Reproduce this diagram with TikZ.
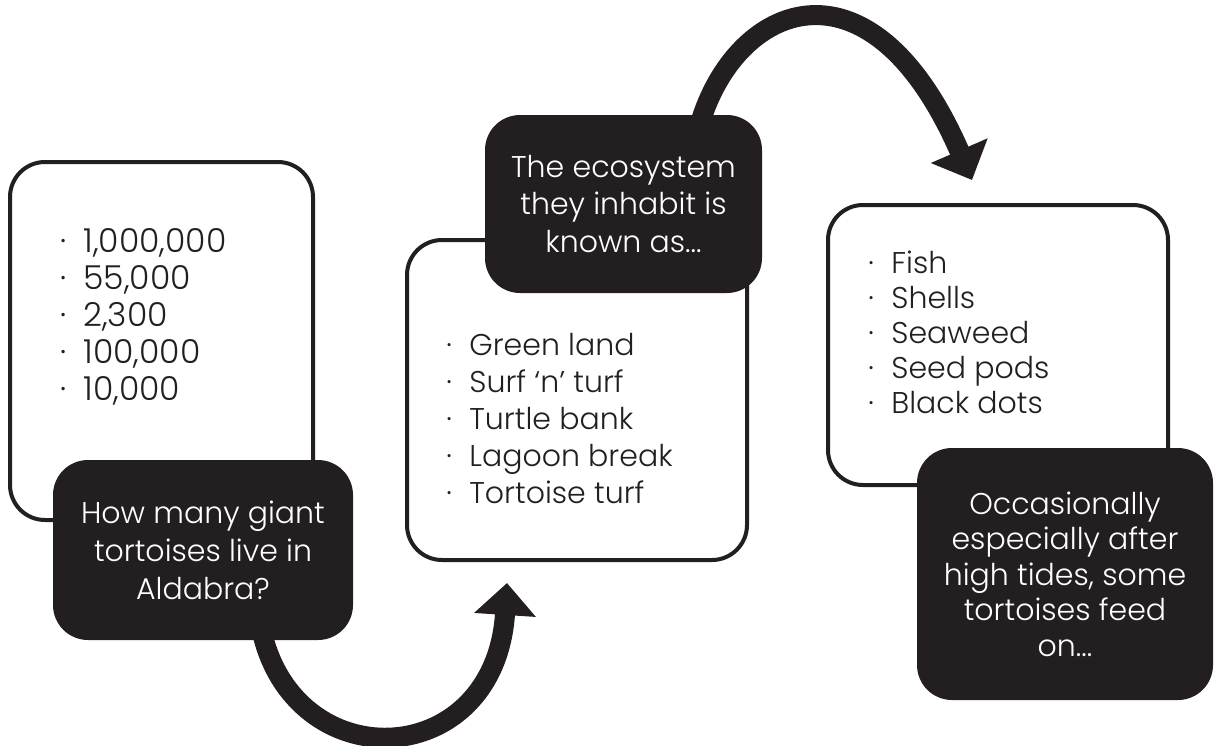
\documentclass[tikz,border=0pt]{standalone}
\usepackage{fontspec}
\setmainfont{Poppins}[UprightFont=* Light]
\usetikzlibrary{arrows.meta,calc}
\definecolor{ink}{RGB}{35,31,32}
\newcommand\bulletmark{\makebox[11.5pt][l]{·}}
\begin{document}
\begin{tikzpicture}[x=0.5pt,y=-0.5pt,
  wbox/.style={draw=ink, line width=2pt, rounded corners=17.5pt, fill=white, inner sep=0pt},
  bbox/.style={fill=ink, rounded corners=17.5pt, text=white, align=center, inner sep=0pt},
  itemlist/.style={anchor=base west, align=left, inner sep=0pt, text=ink},
  flow/.style={draw=ink, line width=10pt, -{Triangle[length=16pt,width=30pt]}}]
\useasboundingbox (0,0) rectangle (1216,745);

% first pair
\node[wbox, minimum width=151.5pt, minimum height=179pt] (a1) at (161.5,341) {};
\node[itemlist, font=\fontsize{16.5}{18.5}\selectfont] (l1) at (60,400)
  {\bulletmark 1,000,000\\ \bulletmark 55,000\\ \bulletmark 2,300\\ \bulletmark 100,000\\ \bulletmark 10,000};
\node[bbox, minimum width=150pt, minimum height=90pt, font=\fontsize{15}{19}\selectfont] (q1) at (203,550)
  {How many giant\\ tortoises live in\\ Aldabra?};

% second pair
\node[wbox, minimum width=170pt, minimum height=160pt] (a2) at (577,400) {};
\node[itemlist, font=\fontsize{15}{18.5}\selectfont] (l2) at (446,503)
  {\bulletmark Green land\\ \bulletmark Surf ‘n’ turf\\ \bulletmark Turtle bank\\ \bulletmark Lagoon break\\ \bulletmark Tortoise turf};
\node[bbox, minimum width=138.5pt, minimum height=89pt, font=\fontsize{15}{18.75}\selectfont] (q2) at (623.5,204)
  {The ecosystem\\ they inhabit is\\ known as...};

% third pair
\node[wbox, minimum width=170pt, minimum height=140pt] (a3) at (998,345) {};
\node[itemlist, font=\fontsize{15}{17.5}\selectfont] (l3) at (868,413)
  {\bulletmark Fish\\ \bulletmark Shells\\ \bulletmark Seaweed\\ \bulletmark Seed pods\\ \bulletmark Black dots};
\node[bbox, minimum width=148pt, minimum height=126pt, font=\fontsize{15}{17.75}\selectfont] (q3) at (1065,574)
  {Occasionally\\ especially after\\ high tides, some\\ tortoises feed\\ on...};

% arrows
\coordinate (t1) at (507,583);
\coordinate (t2) at (972,180);
\draw[flow] ($(q1.south)+(60,-4)$) .. controls (300,780) and (495,770) .. (t1);
\draw[flow] ($(q2.north)+(78,4)$) .. controls (740,0) and (872,-50) .. (t2);
\end{tikzpicture}
\end{document}
